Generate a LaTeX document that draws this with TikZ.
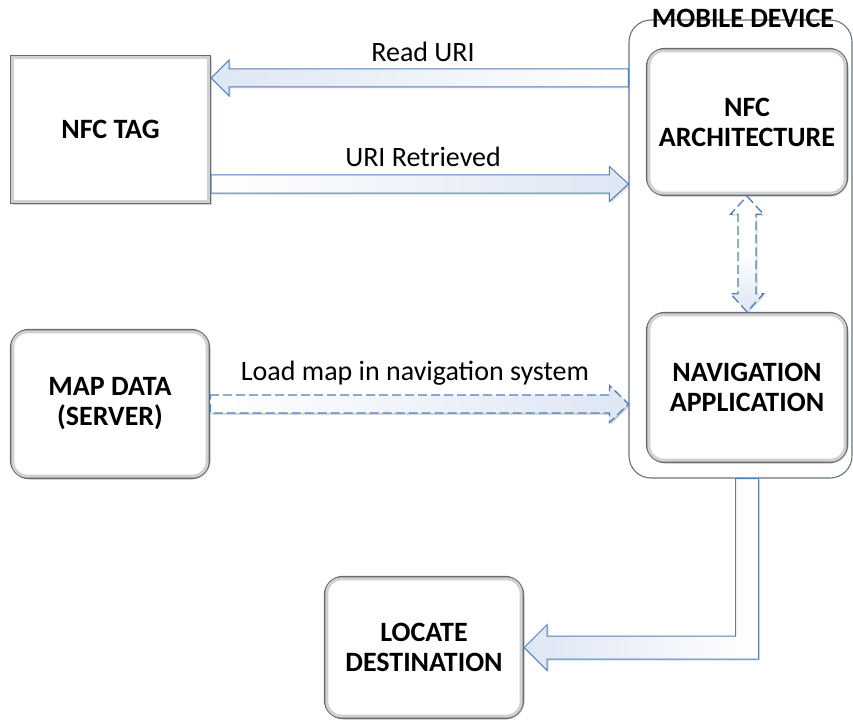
\documentclass[tikz,border=0pt]{standalone}
\usepackage{fontspec}
\setmainfont{Carlito}
\usetikzlibrary{shadows,calc}
\definecolor{boxline}{RGB}{100,108,120}
\definecolor{arrline}{RGB}{79,129,189}
\definecolor{arrfill}{RGB}{222,230,244}
\definecolor{mobline}{RGB}{100,116,138}
\newcommand\blockarrow[6]{%
  \coordinate (ba-b) at ($(#3)!#6!(#2)$);
  \draw[#1] ($(#2)!#4!90:(#3)$) -- ($(ba-b)!#4!90:(#3)$) -- ($(ba-b)!#5!90:(#3)$) -- (#3)
    -- ($(ba-b)!#5!-90:(#3)$) -- ($(ba-b)!#4!-90:(#3)$) -- ($(#2)!#4!-90:(#3)$) -- cycle;}
\newcommand\dblarrow[6]{%
  \coordinate (da-a) at ($(#2)!#6!(#3)$);
  \coordinate (da-b) at ($(#3)!#6!(#2)$);
  \draw[#1] (#2) -- ($(da-a)!#5!90:(#3)$) -- ($(da-a)!#4!90:(#3)$) -- ($(da-b)!#4!90:(#3)$)
    -- ($(da-b)!#5!90:(#3)$) -- (#3) -- ($(da-b)!#5!-90:(#3)$) -- ($(da-b)!#4!-90:(#3)$)
    -- ($(da-a)!#4!-90:(#3)$) -- ($(da-a)!#5!-90:(#3)$) -- cycle;}
\newcommand\bevel[2]{%
  \draw[bevelline, rounded corners=#2] ($(#1.north west)+(3,3)$) rectangle ($(#1.south east)+(-3,-3)$);}
\begin{document}
\begin{tikzpicture}[x=1pt,y=-1pt,
  box/.style={draw=boxline, line width=2.4pt, fill=white, inner sep=0pt,
    font=\fontsize{28}{30}\selectfont\bfseries, align=center,
    drop shadow={shadow xshift=1.5pt, shadow yshift=-1.5pt, opacity=0.35}},
  rbox/.style={box, rounded corners=18pt},
  bevelline/.style={draw=black!18, line width=3pt},
  mobbox/.style={draw=mobline, line width=1.1pt, rounded corners=22pt, inner sep=0pt},
  lbl/.style={font=\fontsize{28}{30}\selectfont, anchor=base, inner sep=0pt},
  barrow/.style={draw=arrline, line width=1pt, line join=miter,
    drop shadow={shadow xshift=1.5pt, shadow yshift=-1.5pt, opacity=0.25}},
  headleft/.style={barrow, left color=arrfill, right color=white},
  headright/.style={barrow, left color=white, right color=arrfill},
  darrow/.style={barrow, line width=1.3pt, dash pattern=on 9pt off 4pt},
]
\useasboundingbox (0,0) rectangle (853,722);
% container
\node[mobbox, minimum width=223pt, minimum height=458pt] (mob) at (740.5,249) {};
\node[font=\fontsize{28}{30}\selectfont\bfseries, anchor=base, inner sep=0pt] (mobt) at (743,28) {MOBILE DEVICE};
% boxes
\node[box, minimum width=199pt, minimum height=147pt] (tag) at (110.5,129.5) {NFC TAG};
\node[rbox, minimum width=198pt, minimum height=148pt] (map) at (110,404) {MAP DATA\\(SERVER)};
\node[rbox, minimum width=200pt, minimum height=146pt] (arch) at (747,122) {NFC\\ARCHITECTURE};
\node[rbox, minimum width=200pt, minimum height=149pt] (nav) at (747,387.5) {NAVIGATION\\APPLICATION};
\node[rbox, minimum width=198pt, minimum height=141pt] (loc) at (424,647.5) {LOCATE\\DESTINATION};
\bevel{tag}{0pt}
\bevel{map}{15pt}
\bevel{arch}{15pt}
\bevel{nav}{15pt}
\bevel{loc}{15pt}
% helper levels
\coordinate (y1) at (0,78);
\coordinate (y2) at (0,184);
\coordinate (y3) at (0,404);
\coordinate (r1) at (mob.west |- y1);
\coordinate (r2) at (tag.east |- y1);
\coordinate (u1) at (tag.east |- y2);
\coordinate (u2) at (mob.west |- y2);
\coordinate (m1) at (map.east |- y3);
\coordinate (m2) at (mob.west |- y3);
% arrows
\blockarrow{headleft}{r1}{r2}{9pt}{18pt}{18pt}
\blockarrow{headright}{u1}{u2}{9pt}{17.5pt}{19pt}
\blockarrow{headright, darrow}{m1}{m2}{9pt}{18.5pt}{19pt}
\dblarrow{darrow, top color=white, bottom color=arrfill, middle color=white}{arch.south}{nav.north}{9pt}{16.5pt}{18pt}
% elbow arrow
\coordinate (es) at (nav.south |- mob.south);
\coordinate (ec) at (es |- loc.east);
\draw[headleft] ($(es)+(-11.5,0)$) -- ($(ec)+(-11.5,-11.5)$) -- ($(loc.east)+(23,-11.5)$)
  -- ($(loc.east)+(23,-23)$) -- (loc.east) -- ($(loc.east)+(23,23)$)
  -- ($(loc.east)+(23,11.5)$) -- ($(ec)+(11.5,11.5)$) -- ($(es)+(11.5,0)$) -- cycle;
% labels
\node[lbl] (lread) at (423,62) {Read URI};
\node[lbl] (lret) at (423,167) {URI Retrieved};
\node[lbl] (lload) at (415,380) {Load map in navigation system};
\end{tikzpicture}
\end{document}
